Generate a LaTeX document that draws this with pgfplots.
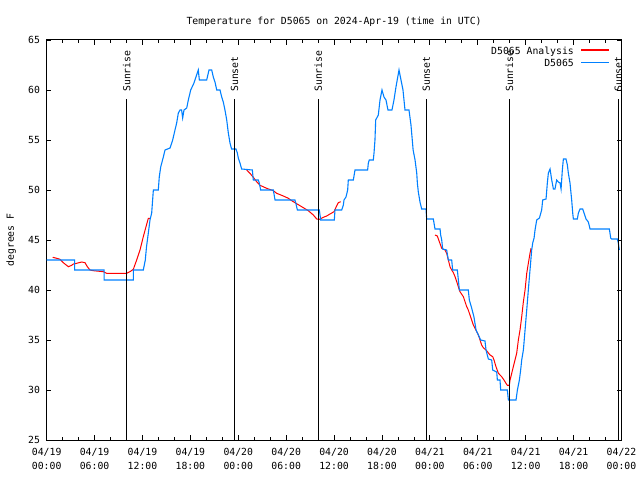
\documentclass[border=0pt]{standalone}
\usepackage{fontspec}
\setmainfont{DejaVu Sans Mono}
\usepackage{pgfplots}
\pgfplotsset{compat=1.18}
\definecolor{gblue}{RGB}{0,128,255}
\definecolor{gred}{RGB}{255,0,0}
\newcommand\ff{\fontsize{9.8bp}{12bp}\selectfont}
\begin{document}
\ff
\begin{tikzpicture}[font=\ff]
\path (0,0) rectangle (640bp,480bp);
\begin{axis}[
  at={(46.7bp,40bp)}, anchor=south west,
  scale only axis, width=574.8bp, height=400bp,
  xmin=0, xmax=72, ymin=25, ymax=65,
  xtick={0,6,...,72}, minor x tick num=2,
  ytick={25,30,...,65},
  xticklabels={{04/19\\00:00},{04/19\\06:00},{04/19\\12:00},{04/19\\18:00},
               {04/20\\00:00},{04/20\\06:00},{04/20\\12:00},{04/20\\18:00},
               {04/21\\00:00},{04/21\\06:00},{04/21\\12:00},{04/21\\18:00},
               {04/22\\00:00}},
  tick align=inside,
  major tick length=4.5bp, minor tick length=2.7bp,
  every tick/.style={black, line width=0.8bp},
  axis line style={line width=1bp},
  tick label style={font=\ff},
  /pgf/number format/assume math mode=true,
  xticklabel style={align=center, inner sep=0pt, yshift=-8bp, font=\fontsize{9.8bp}{14bp}\selectfont},
  yticklabel style={inner sep=0pt, xshift=-6.5bp},
  ylabel={degrees F},
  ylabel style={at={(axis description cs:-0.0618,0.5)}, anchor=center, inner sep=0pt, font=\ff},
  clip mode=individual,
  unbounded coords=jump,
]
% D5065 Analysis (red), three segments
\addplot[color=gred, line width=1bp, forget plot] coordinates {
(0.75,43.27)(1.25,43.17)(1.67,43.07)(2.08,42.73)(2.71,42.33)(3.13,42.47)(3.34,42.6)
(3.75,42.67)(4.38,42.8)(4.8,42.73)(5.09,42.33)(5.42,42.0)(5.84,41.93)(7.09,41.83)
(7.51,41.67)(10.02,41.67)(10.43,41.83)(10.85,42.07)(11.27,43)(11.69,44)(12.1,45.33)
(12.44,46.33)(12.73,47.17)(12.94,47.17)
(18,nan)
(24.97,52.07)(25.46,51.67)(25.88,51.27)(26.3,50.83)(26.72,50.47)(27.55,50.17)
(28.39,49.93)(28.81,49.67)(29.64,49.4)(30.27,49.17)(30.69,48.93)(31.23,48.67)
(31.94,48.33)(32.77,47.93)(33.4,47.5)(33.82,47.1)(34.15,47.07)(34.65,47.27)
(35.07,47.4)(35.49,47.6)(35.99,47.83)(36.24,48.27)(36.53,48.73)(36.82,48.83)
(42,nan)
(48.64,45.5)(48.93,45.4)(49.18,44.83)(49.48,44.17)(49.69,44.07)(49.9,44.0)(50.1,43.67)
(50.31,43.0)(50.52,42.33)(50.73,42.0)(50.94,41.73)(51.15,41.33)(51.36,40.83)(51.56,40.33)
(51.77,39.83)(52.19,39.33)(52.4,38.83)(52.61,38.33)(52.81,38.0)(53.02,37.5)(53.23,37.0)
(53.44,36.5)(53.65,36.17)(53.86,35.83)(54.07,35.5)(54.28,35.0)(54.48,34.5)(54.69,34.23)
(55.03,34.0)(55.2,33.83)(55.53,33.5)(55.87,33.33)(56.03,33.0)(56.28,32.33)(56.58,31.67)
(56.99,31.33)(57.28,31.0)(57.53,30.67)(57.7,30.47)(57.95,30.47)(58.04,31.0)(58.25,31.67)
(58.45,32.33)(58.66,33.0)(58.87,33.67)(59.08,35.0)(59.29,36.0)(59.5,37.33)(59.71,38.83)
(59.92,40.0)(60.13,41.67)(60.33,42.67)(60.54,43.67)(60.67,44.17)};

% D5065 (blue)
\addplot[color=gblue, line width=1.1bp, forget plot] coordinates {
(0,43)(3.5,43)(3.5,42)(7.2,42)(7.2,41)(10.85,41)(10.85,42)(12.1,42)(12.35,43)(12.5,44.3)
(12.73,45.7)(12.94,47)(13.15,47.7)(13.36,50)(13.98,50)(14.1,51.3)(14.28,52.3)(14.61,53.3)
(14.82,54)(15.45,54.2)(15.78,55)(16.07,56)(16.28,56.7)(16.49,57.7)(16.7,58)(16.9,58)
(17.03,57.2)(17.2,58)(17.54,58.2)(17.74,59)(18.04,60)(18.45,60.7)(18.7,61.3)(18.99,62)
(19.12,61)(20.04,61)(20.33,62)(20.67,62)(20.87,61.3)(21.08,60.8)(21.3,60)(21.71,60)
(21.92,59.3)(22.12,58.8)(22.33,58)(22.55,57)(22.75,55.7)(22.96,54.7)(23.16,54.1)(23.71,54.1)
(23.88,53.7)(24.0,53.2)(24.21,52.7)(24.42,52.1)(25.76,52)(25.88,51)(26.5,51)(26.63,50.7)
(26.8,50)(28.39,50)(28.6,49)(31.1,49)(31.23,48.6)(31.4,48)(34.15,48)(34.32,47)(36.03,47)
(36.11,48)(36.95,48)(37.16,48.5)(37.24,49)(37.49,49.3)(37.7,50)(37.78,51)(38.41,51)
(38.62,52)(40.2,52)(40.29,52.7)(40.41,53)(40.91,53)(41.0,53.7)(41.12,55)(41.21,57)
(41.54,57.5)(41.75,59)(42.0,60)(42.25,59.3)(42.5,59)(42.75,58)(43.25,58)(43.5,59)
(43.75,60.3)(44.13,62)(44.38,61)(44.63,60)(44.88,58)(45.38,58)(45.63,56.5)(45.9,54)
(46.14,53)(46.35,51.7)(46.43,50.7)(46.55,49.8)(46.76,48.8)(46.97,48.1)(47.51,48.1)
(47.6,47.1)(48.43,47.1)(48.64,46.1)(49.27,46.1)(49.35,45.5)(49.48,45)(49.6,44.1)(50.1,44)
(50.31,43)(50.73,43)(50.85,42)(51.44,42)(51.69,40)(52.81,40)(52.94,39)(53.23,38.2)
(53.52,37.3)(53.78,36)(54.07,35.5)(54.36,35)(54.9,34.9)(55.03,34)(55.32,33.1)(55.74,33)
(55.87,32)(56.37,31.8)(56.45,31)(56.78,31)(56.87,30)(57.7,30)(57.83,29)(58.79,29)
(58.96,30)(59.21,31)(59.37,32)(59.5,33)(59.71,34)(59.92,36)(60.13,38)(60.33,40)
(60.54,42)(60.75,44)(60.88,44.7)(61.05,45.2)(61.17,46)(61.38,47)(61.72,47.2)(62.0,48)
(62.13,49)(62.55,49.1)(62.71,50.7)(62.84,51.7)(63.05,52.1)(63.26,51)(63.47,50.1)
(63.67,50.1)(63.88,51)(64.09,50.8)(64.3,50.7)(64.43,50.1)(64.59,52)(64.72,53.1)(65.05,53.1)
(65.22,52.5)(65.34,51.7)(65.55,50.7)(65.76,49)(65.89,47.7)(65.97,47.1)(66.47,47.1)
(66.6,47.7)(66.81,48.1)(67.14,48.1)(67.31,47.7)(67.56,47.1)(67.85,46.8)(68.06,46.1)
(70.48,46.1)(70.65,45.2)(70.77,45.1)(71.48,45.1)(71.6,44.7)(71.73,44)};

% sunrise / sunset markers
\addplot[black, line width=1bp, forget plot] coordinates {(10.02,59.07) (10.02,25)};
\addplot[black, line width=1bp, forget plot] coordinates {(23.52,59.07) (23.52,25)};
\addplot[black, line width=1bp, forget plot] coordinates {(34.00,59.07) (34.00,25)};
\addplot[black, line width=1bp, forget plot] coordinates {(47.55,59.07) (47.55,25)};
\addplot[black, line width=1bp, forget plot] coordinates {(57.96,59.07) (57.96,25)};
\addplot[black, line width=1bp, forget plot] coordinates {(71.60,59.07) (71.60,25)};
\node[rotate=90, anchor=west, inner sep=0pt] at (axis cs:10.02,59.8) {Sunrise};
\node[rotate=90, anchor=west, inner sep=0pt] at (axis cs:23.52,59.8) {Sunset};
\node[rotate=90, anchor=west, inner sep=0pt] at (axis cs:34.00,59.8) {Sunrise};
\node[rotate=90, anchor=west, inner sep=0pt] at (axis cs:47.55,59.8) {Sunset};
\node[rotate=90, anchor=west, inner sep=0pt] at (axis cs:57.96,59.8) {Sunrise};
\node[rotate=90, anchor=west, inner sep=0pt] at (axis cs:71.60,59.8) {Sunset};

% title and legend
\node[anchor=base, inner sep=0pt] at (axis description cs:0.5,1.04) {Temperature for D5065 on 2024-Apr-19 (time in UTC)};
\node[anchor=base east, inner sep=0pt] at (axis description cs:0.9174,0.965) {D5065 Analysis};
\node[anchor=base east, inner sep=0pt] at (axis description cs:0.9174,0.934) {D5065};
\end{axis}
\draw[draw=gred, line width=1.1bp] (581bp,430bp) -- (609.3bp,430bp);
\draw[draw=gblue, line width=1.1bp] (581bp,417.5bp) -- (609.3bp,417.5bp);
\end{tikzpicture}
\end{document}
